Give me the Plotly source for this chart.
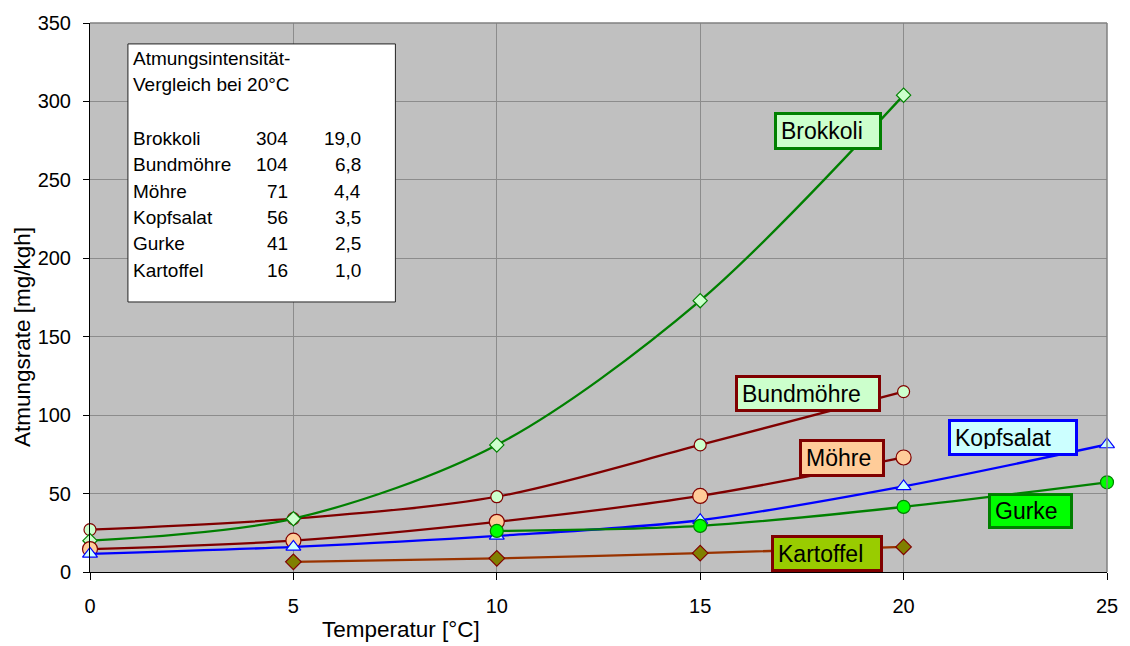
import plotly.graph_objects as go

# Respiration rate [mg/kgh] vs. storage temperature [°C]
temps_brokkoli = [0, 5, 10, 15, 20]
brokkoli = [20, 34, 81, 173, 304]

temps_bundmoehre = [0, 5, 10, 15, 20]
bundmoehre = [27, 34, 48, 81, 115]

temps_moehre = [0, 5, 10, 15, 20]
moehre = [14.6, 20, 32, 48.5, 73]

temps_kopfsalat = [0, 5, 10, 15, 20, 25]
kopfsalat = [11.5, 16, 23, 33, 54.6, 81.3]

temps_gurke = [10, 15, 20, 25]
gurke = [26.2, 29.4, 41.5, 57.2]

temps_kartoffel = [5, 10, 15, 20]
kartoffel = [6.5, 8.7, 12, 16]

# comparison table at 20 °C
table_title = ["Atmungsintensität-", "Vergleich bei 20°C"]
table_names = ["Brokkoli", "Bundmöhre", "Möhre", "Kopfsalat", "Gurke", "Kartoffel"]
table_rates = ["304", "104", "71", "56", "41", "16"]
table_ratios = ["19,0", "6,8", "4,4", "3,5", "2,5", "1,0"]

x_ticks = [0, 5, 10, 15, 20, 25]
y_ticks = [0, 50, 100, 150, 200, 250, 300, 350]

FONT = "Liberation Sans, Arial, sans-serif"
W, H = 1130, 646
L, R, T, B = 90, 1109, 21, 572


def px(x):
    return (x - L) / (R - L)


def py(y):
    return (B - y) / (B - T)


fig = go.Figure()

series = [
    ("Bundmöhre", temps_bundmoehre, bundmoehre, "#800000", "circle", 12, "#CCFFCC", "#800000"),
    ("Brokkoli", temps_brokkoli, brokkoli, "#008000", "diamond", 11, "#CCFFCC", "#008000"),
    ("Möhre", temps_moehre, moehre, "#800000", "circle", 15, "#FFCC99", "#800000"),
    ("Kopfsalat", temps_kopfsalat, kopfsalat, "#0000FF", "triangle-up", 13, "#CCFFFF", "#0000FF"),
    ("Gurke", temps_gurke, gurke, "#008000", "circle", 13, "#00FF00", "#008000"),
    ("Kartoffel", temps_kartoffel, kartoffel, "#993300", "diamond", 12, "#808000", "#800000"),
]
for name, xs, ys, lc, sym, size, fill, edge in series:
    fig.add_trace(go.Scatter(
        x=xs, y=ys, name=name, mode="lines+markers", cliponaxis=False,
        line=dict(color=lc, width=2.3, shape="spline", smoothing=0.9),
        marker=dict(symbol=sym, size=size, color=fill, line=dict(color=edge, width=1.2)),
        showlegend=False, hoverinfo="x+y+name",
    ))

# series name boxes (outer pixel edges: left, top, right, bottom)
labels = [
    ("Brokkoli", 775, 110, 883, 148, "#CCFFCC", "#008000"),
    ("Bundmöhre", 736, 374, 882, 411, "#CCFFCC", "#800000"),
    ("Möhre", 800, 439, 886, 477, "#FFCC99", "#800000"),
    ("Kopfsalat", 950, 418, 1080, 455, "#CCFFFF", "#0000FF"),
    ("Gurke", 990, 493, 1075, 529, "#00FF00", "#008000"),
    ("Kartoffel", 772, 535, 884, 572, "#99CC00", "#800000"),
]
annotations = []
bw, pad = 3, 4
for text, x0, y0, x1, y1, fill, edge in labels:
    annotations.append(dict(
        text=text, xref="paper", yref="paper", x=px(x0), y=py(y0),
        xanchor="left", yanchor="top", showarrow=False, align="left",
        width=x1 - x0 - 2 * (bw + pad), height=y1 - y0 - 2 * (bw + pad),
        bgcolor=fill, bordercolor=edge, borderwidth=bw, borderpad=pad,
        font=dict(family=FONT, size=23, color="black"),
    ))

# table text
tfont = dict(family=FONT, size=19, color="black")
title_rows = [57, 82.5]
for txt, yc in zip(table_title, title_rows):
    annotations.append(dict(text=txt, xref="paper", yref="paper", x=px(131), y=py(yc),
                            xanchor="left", yanchor="middle", showarrow=False, font=tfont))
row_y = [137, 163.5, 190, 216.5, 242.5, 269]
for name, rate, ratio, yc in zip(table_names, table_rates, table_ratios, row_y):
    annotations.append(dict(text=name, xref="paper", yref="paper", x=px(131), y=py(yc),
                            xanchor="left", yanchor="middle", showarrow=False, font=tfont))
    annotations.append(dict(text=rate, xref="paper", yref="paper", x=px(290), y=py(yc),
                            xanchor="right", yanchor="middle", showarrow=False, font=tfont))
    annotations.append(dict(text=ratio, xref="paper", yref="paper", x=px(363.5), y=py(yc),
                            xanchor="right", yanchor="middle", showarrow=False, font=tfont))

# axis titles
annotations.append(dict(text="Temperatur [°C]", xref="paper", yref="paper", x=px(402), y=py(630),
                        xanchor="center", yanchor="middle", showarrow=False,
                        font=dict(family=FONT, size=22.5, color="black")))
annotations.append(dict(text="Atmungsrate [mg/kgh]", xref="paper", yref="paper", x=px(23), y=py(336),
                        xanchor="center", yanchor="middle", showarrow=False, textangle=-90,
                        font=dict(family=FONT, size=22.5, color="black")))

shapes = [
    # table frame
    dict(type="rect", xref="paper", yref="paper", x0=px(128), x1=px(396), y0=py(301), y1=py(42),
         fillcolor="white", line=dict(color="#222222", width=1), layer="above"),
    # plot area frame (top and right)
    dict(type="line", xref="paper", yref="paper", x0=0, x1=1, y0=1, y1=1,
         line=dict(color="#808080", width=1.5), layer="above"),
    dict(type="line", xref="paper", yref="paper", x0=1, x1=1, y0=0, y1=1,
         line=dict(color="#808080", width=1.5), layer="above"),
]

fig.update_layout(
    width=W, height=H,
    margin=dict(l=L, r=W - R, t=T, b=H - B, pad=0),
    paper_bgcolor="white", plot_bgcolor="#C0C0C0",
    font=dict(family=FONT, size=19, color="black"),
    annotations=annotations, shapes=shapes,
    xaxis=dict(range=[0, 25], tickvals=x_ticks, ticks="outside", ticklen=7, tickcolor="black",
               showline=True, linecolor="black", linewidth=1, showgrid=True,
               gridcolor="#8c8c8c", gridwidth=1, zeroline=False, ticklabelstandoff=9,
               tickfont=dict(family=FONT, size=20)),
    yaxis=dict(range=[0, 350], tickvals=y_ticks, ticks="outside", ticklen=6, tickcolor="black",
               showline=True, linecolor="black", linewidth=1, showgrid=True,
               gridcolor="#8c8c8c", gridwidth=1, zeroline=False, ticklabelstandoff=8,
               tickfont=dict(family=FONT, size=20)),
)

fig.write_html("out.html")
